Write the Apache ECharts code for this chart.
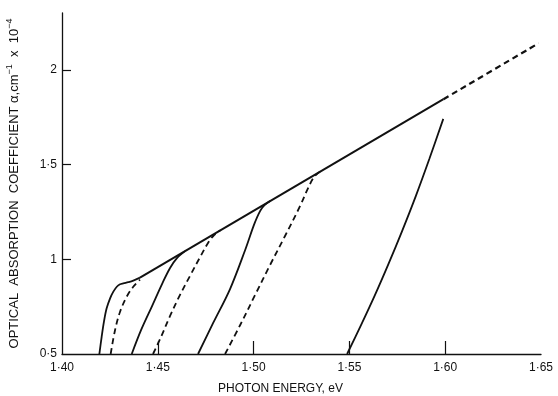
<!DOCTYPE html>
<html>
<head>
<meta charset="utf-8">
<script src="https://cdn.jsdelivr.net/npm/echarts@6/dist/echarts.min.js"></script>
<style>html,body{margin:0;padding:0;background:#fff}#c{width:558px;height:396px}</style>
</head>
<body>
<div id="c"></div>
<script>
// Tick labels
const xTicks = [1.40, 1.45, 1.50, 1.55, 1.60, 1.65];
const yTicks = [0.5, 1, 1.5, 2];

// Envelope line (solid then dashed extrapolation)
const envSolidE = [1.4407, 1.5991];
const envSolidA = [0.903, 1.845];
const envDashE = [1.5991, 1.6487];
const envDashA = [1.845, 2.140];

// Curve 1 (solid)
const c1E = [1.4195, 1.4207, 1.4219, 1.4233, 1.4251, 1.4268, 1.4286, 1.4303, 1.4320, 1.4346, 1.4372, 1.4407];
const c1A = [0.5, 0.591, 0.671, 0.741, 0.794, 0.829, 0.855, 0.868, 0.873, 0.879, 0.887, 0.903];
// Curve 2 (dashed)
const c2E = [1.4254, 1.4277, 1.4303, 1.4338, 1.4372, 1.4407];
const c2A = [0.5, 0.627, 0.723, 0.803, 0.855, 0.893];
// Curve 3 (solid)
const c3E = [1.4364, 1.4413, 1.4470, 1.4522, 1.4564, 1.4601, 1.4642];
const c3A = [0.5, 0.627, 0.753, 0.869, 0.954, 1.007, 1.043];
// Curve 4 (dashed)
const c4E = [1.4475, 1.4512, 1.4564, 1.4616, 1.4668, 1.4721, 1.4762, 1.4794, 1.4825];
const c4A = [0.5, 0.579, 0.701, 0.812, 0.912, 1.012, 1.086, 1.128, 1.152];
// Curve 5 (solid)
const c5E = [1.4710, 1.4789, 1.4877, 1.4956, 1.5008, 1.5044, 1.5086];
const c5A = [0.5, 0.664, 0.843, 1.049, 1.197, 1.271, 1.307];
// Curve 6 (dashed)
const c6E = [1.4851, 1.4930, 1.5008, 1.5086, 1.5164, 1.5243, 1.5285, 1.5316, 1.5347];
const c6A = [0.5, 0.653, 0.812, 0.970, 1.123, 1.282, 1.377, 1.435, 1.463];
// Curve 7 (solid)
const c7E = [1.5488, 1.5560, 1.5632, 1.5703, 1.5775, 1.5847, 1.5918, 1.5990];
const c7A = [0.5, 0.651, 0.808, 0.973, 1.149, 1.335, 1.532, 1.741];

const zip = (e, a) => e.map((v, i) => [v, a[i]]);
const FONT = 'Liberation Sans';
const INK = '#111';

function mk(e, a, dashed, w) {
  return {
    type: 'line', data: zip(e, a), showSymbol: false, smooth: 0.35,
    silent: true, animation: false,
    lineStyle: { color: INK, width: w || 1.8, type: dashed ? [6, 4] : 'solid' }
  };
}

const chart = echarts.init(document.getElementById('c'), null, { renderer: 'canvas' });
chart.setOption({
  animation: false,
  backgroundColor: '#fff',
  grid: { left: 62, right: 17, top: 13, bottom: 42, containLabel: false, outerBoundsMode: 'none' },
  xAxis: {
    type: 'value', min: 1.40, max: 1.65, interval: 0.05,
    name: 'PHOTON ENERGY, eV', nameLocation: 'middle', nameGap: 29,
    nameTextStyle: { fontFamily: FONT, fontSize: 12, color: INK, padding: [0, 42, 0, 0] },
    axisLine: { lineStyle: { color: INK, width: 1.3 } },
    axisTick: { show: true, inside: true, length: 13, customValues: [1.45, 1.50, 1.55, 1.60], lineStyle: { color: INK, width: 1.2 } },
    axisLabel: {
      fontFamily: FONT, fontSize: 12, color: INK, margin: 8,
      customValues: xTicks,
      formatter: v => v.toFixed(2).replace('.', '·')
    },
    splitLine: { show: false }
  },
  yAxis: {
    type: 'value', min: 0.5, max: 2.3, interval: 0.5,
    name: 'OPTICAL  ABSORPTION  COEFFICIENT α,cm{s|−1}  x  10{s|−4}',
    nameLocation: 'middle', nameRotate: 90, nameGap: 39,
    nameTextStyle: {
      fontFamily: FONT, fontSize: 13, color: INK, lineHeight: 18,
      rich: { s: { fontFamily: FONT, fontSize: 9, color: INK, verticalAlign: 'top', lineHeight: 18 } }
    },
    axisLine: { show: true, lineStyle: { color: INK, width: 1.3 } },
    axisTick: { show: true, inside: true, length: 9, customValues: [1, 1.5, 2], lineStyle: { color: INK, width: 1.2 } },
    axisLabel: {
      fontFamily: FONT, fontSize: 12, color: INK, margin: 5,
      customValues: yTicks,
      formatter: v => (v === 1 || v === 2) ? String(v) : v.toFixed(1).replace('.', '·')
    },
    splitLine: { show: false }
  },
  series: [
    mk(envSolidE, envSolidA, false, 2),
    mk(envDashE, envDashA, true, 2.2),
    mk(c1E, c1A, false),
    mk(c2E, c2A, true),
    mk(c3E, c3A, false),
    mk(c4E, c4A, true),
    mk(c5E, c5A, false),
    mk(c6E, c6A, true),
    mk(c7E, c7A, false)
  ]
});
</script>
</body>
</html>
